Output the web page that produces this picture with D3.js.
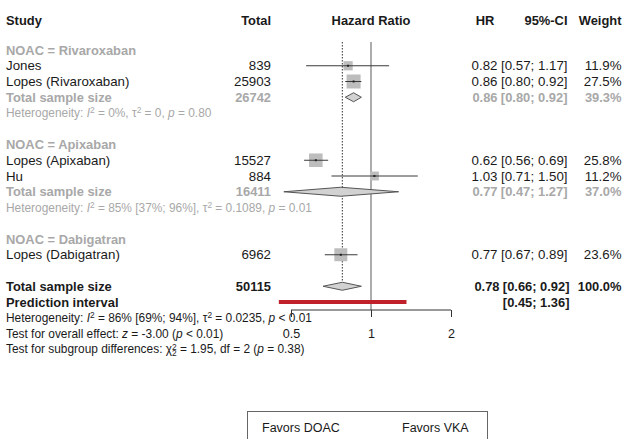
<!DOCTYPE html>
<html>
<head>
<meta charset="utf-8">
<script src="https://cdn.jsdelivr.net/npm/d3@7"></script>
<style>
  html, body { margin: 0; padding: 0; background: #fff; }
  svg { display: block; }
  text { font-family: "Liberation Sans", Arial, Helvetica, sans-serif; }
</style>
</head>
<body>
<svg id="chart" width="623" height="439"></svg>
<script>
// ---------------- Data ----------------
const studies   = ["Jones", "Lopes (Rivaroxaban)", "Lopes (Apixaban)", "Hu", "Lopes (Dabigatran)"];
const studyGrp  = ["Rivaroxaban", "Rivaroxaban", "Apixaban", "Apixaban", "Dabigatran"];
const totals    = [839, 25903, 15527, 884, 6962];
const hr        = [0.82, 0.86, 0.62, 1.03, 0.77];
const lower     = [0.57, 0.80, 0.56, 0.71, 0.67];
const upper     = [1.17, 0.92, 0.69, 1.50, 0.89];
const weights   = [11.9, 27.5, 25.8, 11.2, 23.6];

const groups      = ["Rivaroxaban", "Apixaban", "Dabigatran"];
const grpTotals   = [26742, 16411, null];
const grpHR       = [0.86, 0.77, null];
const grpLower    = [0.80, 0.47, null];
const grpUpper    = [0.92, 1.27, null];
const grpWeight   = [39.3, 37.0, null];
const grpHet      = [
  [["Heterogeneity: "], ["I", "i"], ["2", "sup"], [" = 0%, "], ["\u03C4"], ["2", "sup"], [" = 0, "], ["p", "i"], [" = 0.80"]],
  [["Heterogeneity: "], ["I", "i"], ["2", "sup"], [" = 85% [37%; 96%], "], ["\u03C4"], ["2", "sup"], [" = 0.1089, "], ["p", "i"], [" = 0.01"]],
  null
];

const overallTotal = 50115;
const overallHR = 0.78, overallLower = 0.66, overallUpper = 0.92, overallWeight = 100.0;
const predLower = 0.45, predUpper = 1.36;

const tickValues = [0.5, 1, 2];
const headers = ["Study", "Total", "Hazard Ratio", "HR", "95%-CI", "Weight"];
const favorLabels = ["Favors DOAC", "Favors VKA"];

// ---------------- Layout ----------------
const svg = d3.select("#chart");
const x = d3.scaleLog().domain([0.5, 2]).range([291, 451]);
const rowY = k => 50 + 15.75 * k;

const colStudy = 6, colTotal = 271, colHR = 497.5, colCI = 567.5, colW = 621.5;
const FS = 13.3, FSbold = 12.9, FSsmall = 11.9;
const black = "#1a1a1a", gray = "#a8a8a8";

function fmt2(v) { return v.toFixed(2); }
function ciText(l, u) { return "[" + fmt2(l) + "; " + fmt2(u) + "]"; }

function txt(xp, y, s, opts = {}) {
  return svg.append("text")
    .attr("x", xp).attr("y", y).attr("dy", "0.35em")
    .attr("text-anchor", opts.anchor || "start")
    .attr("font-size", opts.size || (opts.bold ? FSbold : FS))
    .attr("font-weight", opts.bold ? "bold" : "normal")
    .attr("fill", opts.color || black)
    .text(s);
}

function rich(xp, y, segs, opts = {}) {
  const size = opts.size || FSsmall;
  const t = svg.append("text")
    .attr("x", xp).attr("y", y).attr("dy", "0.35em")
    .attr("font-size", size)
    .attr("fill", opts.color || black);
  let shift = 0;
  segs.forEach(seg => {
    const [s, st] = seg;
    const sp = t.append("tspan").text(s);
    let target = 0;
    const small = size * 0.7;
    if (st === "sup") { target = -0.32 * size; sp.attr("font-size", small); }
    else if (st === "sub") { target = 0.25 * size; sp.attr("font-size", small); }
    else if (st === "subback") { target = 0.25 * size; sp.attr("font-size", small).attr("dx", -small * 0.556); }
    if (st === "i") sp.attr("font-style", "italic");
    if (target - shift !== 0) sp.attr("dy", target - shift);
    shift = target;
  });
  return t;
}

// ---------------- Headers ----------------
const hY = 20;
txt(colStudy, hY, headers[0], { bold: true });
txt(colTotal, hY, headers[1], { bold: true, anchor: "end" });
txt(x(1), hY, headers[2], { bold: true, anchor: "middle" });
txt(485, hY, headers[3], { bold: true, anchor: "middle" });
txt(colCI, hY, headers[4], { bold: true, anchor: "end" });
txt(colW, hY, headers[5], { bold: true, anchor: "end" });

// ---------------- Reference lines ----------------
const axisY = 310;
svg.append("line")
  .attr("x1", x(1)).attr("x2", x(1)).attr("y1", 42).attr("y2", axisY)
  .attr("stroke", "#808080").attr("stroke-width", 1.3);
svg.append("line")
  .attr("x1", x(overallHR)).attr("x2", x(overallHR)).attr("y1", 42).attr("y2", rowY(15) - 4)
  .attr("stroke", "#333").attr("stroke-width", 1).attr("stroke-dasharray", "1.5,1.5");

// ---------------- Rows ----------------
const groupStartRow = [0, 6, 12];
const sqScale = 2.67;

groups.forEach((g, gi) => {
  let r = groupStartRow[gi];
  txt(colStudy, rowY(r), "NOAC = " + g, { bold: true, color: gray });
  r++;
  studies.forEach((s, i) => {
    if (studyGrp[i] !== g) return;
    const y = rowY(r);
    txt(colStudy, y, s);
    txt(colTotal, y, String(totals[i]), { anchor: "end" });
    txt(colHR, y, fmt2(hr[i]), { anchor: "end" });
    txt(colCI, y, ciText(lower[i], upper[i]), { anchor: "end" });
    txt(colW, y, weights[i].toFixed(1) + "%", { anchor: "end" });
    const side = sqScale * Math.sqrt(weights[i]);
    svg.append("rect")
      .attr("x", x(hr[i]) - side / 2).attr("y", y - side / 2)
      .attr("width", side).attr("height", side)
      .attr("fill", "#bdbdbd");
    svg.append("line")
      .attr("x1", x(lower[i])).attr("x2", x(upper[i])).attr("y1", y).attr("y2", y)
      .attr("stroke", "#3a3a3a").attr("stroke-width", 1);
    svg.append("rect")
      .attr("x", x(hr[i]) - 1).attr("y", y - 1).attr("width", 2).attr("height", 2)
      .attr("fill", "#222");
    r++;
  });
  if (grpTotals[gi] !== null) {
    const y = rowY(r);
    txt(colStudy, y, "Total sample size", { bold: true, color: gray });
    txt(colTotal, y, String(grpTotals[gi]), { bold: true, color: gray, anchor: "end" });
    txt(colHR, y, fmt2(grpHR[gi]), { bold: true, color: gray, anchor: "end" });
    txt(colCI, y, ciText(grpLower[gi], grpUpper[gi]), { bold: true, color: gray, anchor: "end" });
    txt(colW, y, grpWeight[gi].toFixed(1) + "%", { bold: true, color: gray, anchor: "end" });
    const h = 4.5;
    svg.append("path")
      .attr("d", `M${x(grpLower[gi])},${y} L${x(grpHR[gi])},${y - h} L${x(grpUpper[gi])},${y} L${x(grpHR[gi])},${y + h} Z`)
      .attr("fill", "#d2d2d2").attr("stroke", "#555").attr("stroke-width", 1);
    r++;
    rich(colStudy, rowY(r), grpHet[gi], { color: gray });
  }
});

// ---------------- Overall ----------------
{
  const y = rowY(15);
  txt(colStudy, y, "Total sample size", { bold: true });
  txt(colTotal, y, String(overallTotal), { bold: true, anchor: "end" });
  txt(colHR + 2, y, fmt2(overallHR), { bold: true, anchor: "end" });
  txt(colCI + 2, y, ciText(overallLower, overallUpper), { bold: true, anchor: "end" });
  txt(colW, y, overallWeight.toFixed(1) + "%", { bold: true, anchor: "end" });
  const h = 4;
  svg.append("path")
    .attr("d", `M${x(overallLower)},${y} L${x(overallHR)},${y - h} L${x(overallUpper)},${y} L${x(overallHR)},${y + h} Z`)
    .attr("fill", "#d2d2d2").attr("stroke", "#555").attr("stroke-width", 1);

  const yp = rowY(16);
  txt(colStudy, yp, "Prediction interval", { bold: true });
  txt(colCI + 2, yp, ciText(predLower, predUpper), { bold: true, anchor: "end" });
  svg.append("line")
    .attr("x1", x(predLower)).attr("x2", x(predUpper)).attr("y1", yp).attr("y2", yp)
    .attr("stroke", "#c0212b").attr("stroke-width", 4);

  rich(colStudy, rowY(17), [["Heterogeneity: "], ["I", "i"], ["2", "sup"], [" = 86% [69%; 94%], "], ["\u03C4"], ["2", "sup"], [" = 0.0235, "], ["p", "i"], [" < 0.01"]]);
  rich(colStudy, rowY(18), [["Test for overall effect: "], ["z", "i"], [" = -3.00 ("], ["p", "i"], [" < 0.01)"]]);
  rich(colStudy, rowY(19), [["Test for subgroup differences: "], ["\u03C7"], ["2", "sup"], ["2", "subback"], [" = 1.95, df = 2 ("], ["p", "i"], [" = 0.38)"]]);
}

// ---------------- Axis ----------------
const axis = d3.axisBottom(x).tickValues(tickValues).tickFormat(d => String(d)).tickSize(7).tickPadding(12);
const ag = svg.append("g").attr("transform", `translate(0,${axisY})`).call(axis);
ag.select(".domain").attr("stroke", "#333").attr("d", `M${x(0.5)},0H${x(2)}`);
ag.selectAll(".tick line").attr("stroke", "#333");
ag.selectAll(".tick text").attr("font-size", 12.6).attr("fill", black)
  .attr("font-family", "'Liberation Sans', Arial, sans-serif");

// ---------------- Favors box ----------------
svg.append("rect")
  .attr("x", 247.5).attr("y", 411.5).attr("width", 240).attr("height", 40)
  .attr("fill", "none").attr("stroke", "#666").attr("stroke-width", 1);
svg.append("text").attr("x", 262).attr("y", 428).attr("dy", "0.35em")
  .attr("font-family", "Lato, 'Open Sans', sans-serif").attr("font-size", 12.5).attr("fill", black)
  .text(favorLabels[0]);
svg.append("text").attr("x", 402).attr("y", 428).attr("dy", "0.35em")
  .attr("font-family", "Lato, 'Open Sans', sans-serif").attr("font-size", 12.5).attr("fill", black)
  .text(favorLabels[1]);
</script>
</body>
</html>
